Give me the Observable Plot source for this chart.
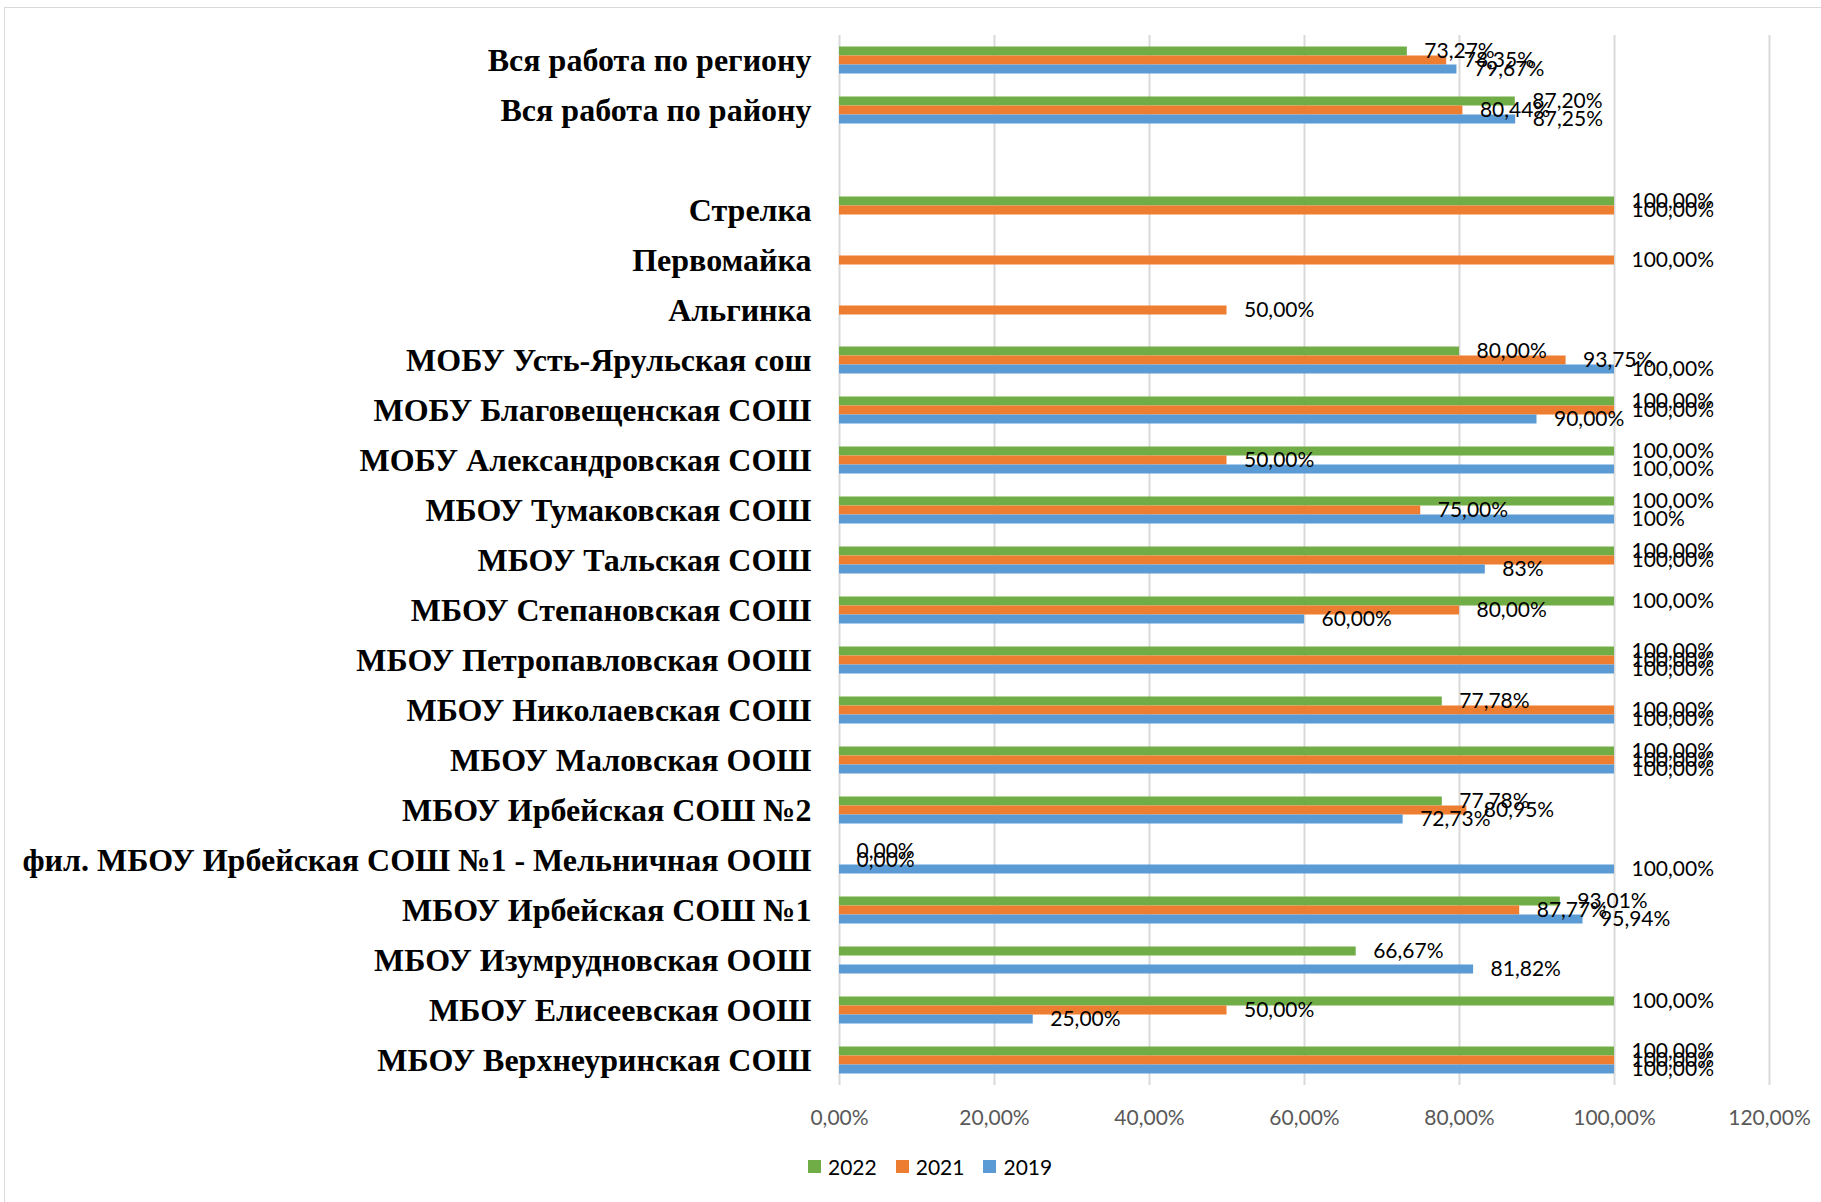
<!DOCTYPE html>
<html><head><meta charset="utf-8">
<script src="https://cdn.jsdelivr.net/npm/d3@7"></script>
<script src="https://cdn.jsdelivr.net/npm/@observablehq/plot@0.6"></script>
<style>
body{margin:0;background:#fff;width:1821px;height:1202px;overflow:hidden;position:relative;}
#frame{position:absolute;left:4px;top:7px;width:1900px;height:1300px;border:1.5px solid #d9d9d9;box-sizing:border-box;}
#chart{position:absolute;left:0;top:0;}
#chart svg [aria-label^="fy-axis"] text{font-family:"Liberation Serif",serif;font-weight:bold;font-size:32px;fill:#000;}
#chart svg [aria-label^="x-axis"] text{font-family:Lato,sans-serif;font-size:21px;fill:#595959;}
#legend{position:absolute;top:1154px;left:808px;display:flex;align-items:center;font-family:Lato,sans-serif;font-size:21px;color:#000;}
#legend .sw{width:13px;height:13px;margin-right:7px;}
#legend .it{display:flex;align-items:center;margin-right:19px;}
</style></head>
<body>
<div id="frame"></div>
<div id="chart"></div>
<div id="legend"></div>
<script>
const categories = [
  "Вся работа по региону",
  "Вся работа по району",
  " ",
  "Стрелка",
  "Первомайка",
  "Альгинка",
  "МОБУ Усть-Ярульская сош",
  "МОБУ Благовещенская СОШ",
  "МОБУ Александровская СОШ",
  "МБОУ Тумаковская СОШ",
  "МБОУ Тальская СОШ",
  "МБОУ Степановская СОШ",
  "МБОУ Петропавловская ООШ",
  "МБОУ Николаевская СОШ",
  "МБОУ Маловская ООШ",
  "МБОУ Ирбейская СОШ №2",
  "фил. МБОУ Ирбейская СОШ №1 - Мельничная ООШ",
  "МБОУ Ирбейская СОШ №1",
  "МБОУ Изумрудновская ООШ",
  "МБОУ Елисеевская ООШ",
  "МБОУ Верхнеуринская СОШ"
];
const values2022 = [73.27, 87.20, null, 100, null, null, 80, 100, 100, 100, 100, 100, 100, 77.78, 100, 77.78, 0, 93.01, 66.67, 100, 100];
const values2021 = [78.35, 80.44, null, 100, 100, 50, 93.75, 100, 50, 75, 100, 80, 100, 100, 100, 80.95, 0, 87.77, null, 50, 100];
const values2019 = [79.67, 87.25, null, null, null, null, 100, 90, 100, 100, 83.33, 60, 100, 100, 100, 72.73, 100, 95.94, 81.82, 25, 100];
const seriesNames = ["2022", "2021", "2019"];
const seriesColors = ["#70AD47", "#ED7D31", "#5B9BD5"];
const xTicks = [0, 0.2, 0.4, 0.6, 0.8, 1.0, 1.2];
// labels shown without decimals in the source chart
const wholePercentLabels = [["МБОУ Тумаковская СОШ", "2019"], ["МБОУ Тальская СОШ", "2019"]];

const fmt2 = v => d3.format(".2%")(v).replace(".", ",");
const fmt0 = v => d3.format(".0%")(v);
const seriesValues = {"2022": values2022, "2021": values2021, "2019": values2019};

const rows = [];
categories.forEach((cat, i) => {
  seriesNames.forEach(s => {
    const raw = seriesValues[s][i];
    const v = raw == null ? null : raw / 100;
    const whole = wholePercentLabels.some(([c, ss]) => c === cat && ss === s);
    rows.push({cat, s, v, label: v == null ? null : (whole ? fmt0(v) : fmt2(v))});
  });
});

const chart = Plot.plot({
  width: 1821,
  height: 1140,
  marginLeft: 839,
  marginRight: 52,
  marginTop: 29.5,
  marginBottom: 49.5,
  style: {background: "transparent", fontFamily: "Lato, sans-serif", fontSize: "21px", color: "#000", overflow: "visible"},
  facet: {data: rows, y: "cat"},
  fy: {domain: categories, padding: 0, label: null, axis: "left", tickSize: 0, tickPadding: 28},
  y: {domain: seriesNames, paddingInner: 0, paddingOuter: 1.12, axis: null},
  x: {domain: [0, 1.2], ticks: xTicks, tickFormat: fmt2, tickSize: 0, tickPadding: 25, label: null, line: false},
  color: {domain: seriesNames, range: seriesColors},
  marks: [
    Plot.ruleX(xTicks, {stroke: "#d9d9d9", strokeWidth: 2}),
    Plot.barX(rows, {x: "v", y: "s", fill: "s"}),
    Plot.text(rows, {x: "v", y: "s", text: "label", dx: 17, textAnchor: "start", fill: "#000", fontFamily: "Lato, sans-serif", fontSize: 21})
  ]
});
document.getElementById("chart").appendChild(chart);

const legend = document.getElementById("legend");
seriesNames.forEach((s, i) => {
  const it = document.createElement("div");
  it.className = "it";
  const sw = document.createElement("div");
  sw.className = "sw";
  sw.style.background = seriesColors[i];
  const t = document.createElement("span");
  t.textContent = s;
  it.appendChild(sw); it.appendChild(t);
  legend.appendChild(it);
});
</script>
</body></html>
